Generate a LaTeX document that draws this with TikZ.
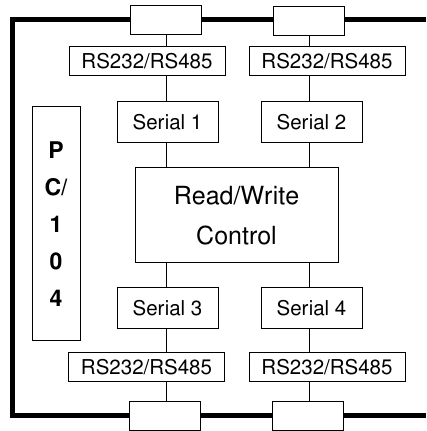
\documentclass[tikz,border=0pt]{standalone}
\usepackage[T1]{fontenc}
\usepackage{helvet}
\renewcommand{\familydefault}{\sfdefault}
\usetikzlibrary{positioning}

\begin{document}
\begin{tikzpicture}[x=1pt, y=1pt,
    conn/.style={draw, line width=1pt, fill=white, minimum width=71pt, minimum height=29pt, inner sep=0pt},
    iface/.style={draw, line width=1pt, fill=white, minimum width=156pt, minimum height=29pt, inner sep=0pt, font=\fontsize{20.5}{24}\selectfont},
    port/.style={draw, line width=1pt, fill=white, minimum width=101pt, minimum height=41pt, inner sep=0pt, font=\fontsize{20.5}{24}\selectfont},
    ctrl/.style={draw, line width=1pt, fill=white, minimum width=203pt, minimum height=95pt, inner sep=0pt, align=center, font=\fontsize{25}{40}\selectfont},
    board/.style={draw, line width=1pt, fill=white, minimum width=48pt, minimum height=234pt, inner sep=0pt, align=center, font=\fontsize{23}{37}\selectfont\bfseries},
    bus/.style={line width=5pt},
    link/.style={line width=1pt}
]
\useasboundingbox (0,0) rectangle (426,431);
\def\xA{166}
\def\xB{309}

% Outer frame
\draw[bus] (426,411) -- (12,411) -- (12,15) -- (426,15);

% Connectors on the frame
\node[conn] (conTL) at (\xA, 410.5) {};
\node[conn] (conTR) at (\xB, 410) {};
\node[conn] (conBL) at (165, 14.5) {};
\node[conn] (conBR) at (307.5, 14.5) {};

% Line drivers
\node[iface] (rsTL) at (147, 369.5) {RS232/RS485};
\node[iface] (rsTR) at (327, 369.5) {RS232/RS485};
\node[iface] (rsBL) at (146.5, 64) {RS232/RS485};
\node[iface] (rsBR) at (327, 64) {RS232/RS485};

% Serial ports
\node[port] (ser1) at (167.5, 308.5) {Serial 1};
\node[port] (ser2) at (311.5, 308.5) {Serial 2};
\node[port] (ser3) at (167.5, 122.5) {Serial 3};
\node[port] (ser4) at (311.5, 122.5) {Serial 4};

% Controller and bus
\node[ctrl] (rw) at (236.5, 215.5) {Read/Write\\Control};
\node[board] (pc) at (56, 207) {P\\C/\\1\\0\\4};

% Vertical links
\draw[link] (conTL.south) -- (conTL.south |- rsTL.north);
\draw[link] (conTR.south) -- (conTR.south |- rsTR.north);
\draw[link] (ser1.north -| conTL.south) -- (rsTL.south -| conTL.south);
\draw[link] (ser2.north -| conTR.south) -- (rsTR.south -| conTR.south);
\draw[link] (ser1.south -| conTL.south) -- (rw.north -| conTL.south);
\draw[link] (ser2.south -| conTR.south) -- (rw.north -| conTR.south);
\draw[link] (rw.south -| conTL.south) -- (ser3.north -| conTL.south);
\draw[link] (rw.south -| conTR.south) -- (ser4.north -| conTR.south);
\draw[link] (ser3.south -| conTL.south) -- (rsBL.north -| conTL.south);
\draw[link] (ser4.south -| conTR.south) -- (rsBR.north -| conTR.south);
\draw[link] (rsBL.south -| conTL.south) -- (conBL.north -| conTL.south);
\draw[link] (rsBR.south -| conTR.south) -- (conBR.north -| conTR.south);

\end{tikzpicture}
\end{document}
